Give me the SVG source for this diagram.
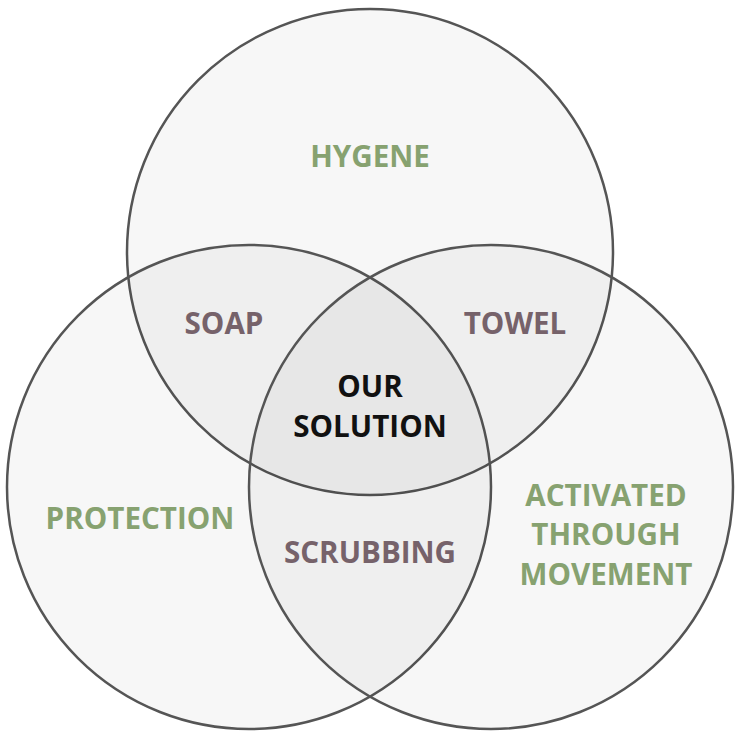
<svg xmlns="http://www.w3.org/2000/svg" width="739" height="739" viewBox="0 0 739 739">
<style>
.c{fill:#000;fill-opacity:0.03;stroke:#555;stroke-width:2.5}
text{font-family:"Open Sans","Liberation Sans",sans-serif;font-weight:bold;font-size:29.6px;text-anchor:middle}
.g{fill:#87a270}
.m{fill:#76626a}
.k{fill:#111}
</style>
<rect width="739" height="739" fill="#fff"/>
<g id="circle-top"><circle class="c" cx="370" cy="252" r="243"/></g>
<g id="circle-left"><circle class="c" cx="249" cy="487" r="242"/></g>
<g id="circle-right"><circle class="c" cx="491" cy="487" r="242"/></g>
<g id="connectors"></g>
<g id="hygene"><text class="g" x="370" y="167">HYGENE</text></g>
<g id="protection"><text class="g" x="140" y="529">PROTECTION</text></g>
<g id="activated"><text class="g" x="606" y="506">ACTIVATED</text><text class="g" x="606" y="545">THROUGH</text><text class="g" x="606" y="585">MOVEMENT</text></g>
<g id="soap"><text class="m" x="224" y="334">SOAP</text></g>
<g id="towel"><text class="m" x="515" y="334">TOWEL</text></g>
<g id="scrubbing"><text class="m" x="370" y="563">SCRUBBING</text></g>
<g id="solution"><text class="k" x="370" y="397">OUR</text><text class="k" x="370" y="437">SOLUTION</text></g>
</svg>
